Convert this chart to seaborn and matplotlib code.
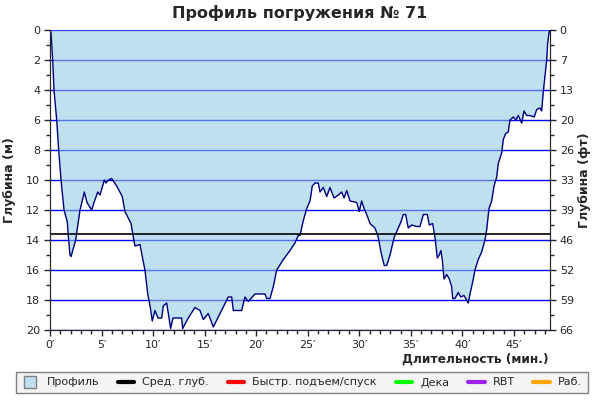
import matplotlib
matplotlib.use("Agg")
import matplotlib.pyplot as plt
from matplotlib.lines import Line2D
from matplotlib.ticker import MultipleLocator
import seaborn as sns

# dive profile: time (min) and depth (m)
time_min = [0.0, 0.10, 0.26, 0.39, 0.65, 0.84, 1.07, 1.36, 1.68, 1.77, 1.94, 2.04,
            2.49, 2.91, 3.33, 3.59, 4.04, 4.27, 4.63, 4.85, 5.27, 5.43, 5.65, 5.98,
            6.47, 7.01, 7.27, 7.86, 8.08, 8.24, 8.73, 8.95, 9.21, 9.48, 9.73, 9.92,
            10.18, 10.48, 10.83, 10.99, 11.32, 11.70, 11.93, 12.29, 12.77, 12.87,
            13.41, 14.06, 14.55, 14.87, 15.35, 15.84, 16.49, 16.78, 17.29, 17.62,
            17.78, 18.59, 18.91, 19.23, 19.88, 20.85, 21.02, 21.34, 21.66, 21.99,
            22.63, 23.28, 23.76, 24.08, 24.25, 24.57, 24.90, 25.22, 25.44, 25.70,
            26.02, 26.19, 26.51, 26.84, 27.16, 27.55, 27.96, 28.29, 28.52, 28.78,
            29.10, 29.75, 30.00, 30.23, 30.46, 30.72, 31.04, 31.52, 31.84, 32.10,
            32.42, 32.66, 32.98, 33.39, 33.78, 34.04, 34.27, 34.50, 34.75, 35.08,
            35.57, 35.89, 36.21, 36.60, 36.79, 37.12, 37.34, 37.57, 37.76, 37.92,
            38.05, 38.22, 38.48, 38.73, 38.96, 39.06, 39.28, 39.60, 39.84, 40.16,
            40.57, 40.74, 41.06, 41.22, 41.54, 41.87, 42.19, 42.36, 42.58, 42.84,
            43.07, 43.33, 43.48, 43.81, 43.97, 44.20, 44.45, 44.62, 44.94, 45.20,
            45.42, 45.75, 45.98, 46.24, 46.56, 46.97, 47.21, 47.53, 47.69, 47.85,
            48.01, 48.18, 48.27, 48.40, 48.50]
depth_m = [0.0, 0.2, 2.0, 4.0, 6.0, 8.0, 10.0, 12.0, 12.8, 13.7, 15.0, 15.1,
           14.0, 12.0, 10.8, 11.5, 12.0, 11.5, 10.8, 11.0, 10.0, 10.2, 10.0, 9.9,
           10.4, 11.1, 12.1, 12.9, 13.8, 14.4, 14.3, 15.1, 16.0, 17.6, 18.5, 19.4,
           18.7, 19.2, 19.2, 18.4, 18.2, 19.9, 19.2, 19.2, 19.2, 19.9,
           19.2, 18.5, 18.7, 19.3, 18.9, 19.8, 18.9, 18.5, 17.8, 17.8,
           18.7, 18.7, 17.8, 18.1, 17.6, 17.6, 17.9, 17.9, 17.1, 16.0,
           15.3, 14.7, 14.2, 13.7, 13.7, 12.7, 11.9, 11.4, 10.4, 10.2,
           10.2, 10.8, 10.5, 11.1, 10.5, 11.2, 11.0, 10.8, 11.2, 10.7,
           11.4, 11.5, 12.1, 11.4, 11.9, 12.3, 12.9, 13.2, 13.8, 14.8,
           15.7, 15.7, 15.0, 13.8, 13.2, 12.8, 12.3, 12.3, 13.2, 13.0,
           13.1, 13.1, 12.3, 12.3, 13.0, 12.9, 13.8, 15.2, 15.0, 14.7,
           15.3, 16.6, 16.3, 16.6, 17.1, 17.9, 17.9, 17.5, 17.8, 17.7,
           18.2, 17.6, 16.6, 16.0, 15.3, 14.8, 14.0, 13.3, 11.9, 11.4,
           10.4, 9.8, 8.9, 8.2, 7.3, 6.9, 6.8, 6.0, 5.8, 6.0,
           5.7, 6.2, 5.4, 5.7, 5.7, 5.8, 5.3, 5.2, 5.4, 4.1,
           3.1, 2.0, 0.9, 0.2, 0.0]
avg_depth = 13.6

depth_ticks = [0, 2, 4, 6, 8, 10, 12, 14, 16, 18, 20]
feet_labels = ["0", "7", "13", "20", "26", "33", "39", "46", "52", "59", "66"]
minute_ticks = [0, 5, 10, 15, 20, 25, 30, 35, 40, 45]

legend_labels = ["Профиль", "Сред. глуб.", "Быстр. подъем/спуск", "Дека", "RBT", "Раб."]
legend_colors = ["#C0E0F0", "black", "red", "#00FF00", "#A020F0", "orange"]

sns.set_style("ticks")
plt.rcParams['font.family'] = ['DejaVu Sans']

fig = plt.figure(figsize=(6, 4), dpi=100)
ax = fig.add_axes([50 / 600, 70 / 400, 500 / 600, 300 / 400])

# blue grid under a semi transparent fill
ax.set_axisbelow(True)
ax.yaxis.grid(True, color="#0000FF", lw=1)
ax.fill_between(time_min, 0, depth_m, color=(146 / 255, 202 / 255, 229 / 255),
                alpha=0.58, lw=0, zorder=2)
sns.lineplot(x=time_min, y=depth_m, color="#000080", lw=1, estimator=None,
             ax=ax, zorder=3)
ax.axhline(avg_depth, color="black", lw=1.2, zorder=4)

ax.set_xlim(0, 48.5)
ax.set_ylim(20, 0)
ax.set_yticks(depth_ticks)
ax.yaxis.set_minor_locator(MultipleLocator(1))
ax.set_xticks(minute_ticks)
ax.set_xticklabels([f"{m}′" for m in minute_ticks])
ax.xaxis.set_minor_locator(MultipleLocator(1))
ax.tick_params(which="major", direction="out", length=4, width=1, labelsize=8, pad=3)
ax.tick_params(which="minor", direction="out", length=3, width=1)
ax.spines["top"].set_visible(False)
ax.set_ylabel("Глубина (м)", fontsize=9, fontweight="bold")
ax.yaxis.set_label_coords(-34 / 500, 0.5)
ax.set_xlabel("")

ax2 = ax.twinx()
ax2.set_ylim(20, 0)
ax2.set_yticks(depth_ticks)
ax2.set_yticklabels(feet_labels)
ax2.yaxis.set_minor_locator(MultipleLocator(1))
ax2.tick_params(which="major", direction="out", length=4, width=1, labelsize=8, pad=3)
ax2.tick_params(which="minor", direction="out", length=3, width=1)
ax2.spines["top"].set_visible(False)
ax2.set_ylabel("Глубина (фт)", fontsize=9, fontweight="bold")
ax2.yaxis.set_label_coords(1 + 28 / 500, 0.5)

fig.text(0.5, 1 - 13 / 400, "Профиль погружения № 71", ha="center", va="center",
         fontsize=11.5, fontweight="bold")
fig.text(549 / 600, 1 - 359 / 400, "Длительность (мин.)", ha="right", va="center",
         fontsize=8.8, fontweight="bold")

handles = [Line2D([0], [0], ls="none", marker="s", markersize=8,
                  markerfacecolor=legend_colors[0], markeredgecolor="gray")]
handles += [Line2D([0], [0], color=c, lw=3) for c in legend_colors[1:]]
leg = fig.legend(handles, legend_labels, loc="center", ncol=6,
                 bbox_to_anchor=(302 / 600, 1 - 382.5 / 400), fontsize=8,
                 frameon=True, fancybox=False, edgecolor="gray", facecolor="#F4F4F4",
                 handlelength=1.5, columnspacing=1.7,
                 borderpad=0.5, handletextpad=0.7)
leg.get_frame().set_linewidth(1)
leg.get_frame().set_alpha(1)

fig.savefig("out.png", dpi=100, facecolor="white")
